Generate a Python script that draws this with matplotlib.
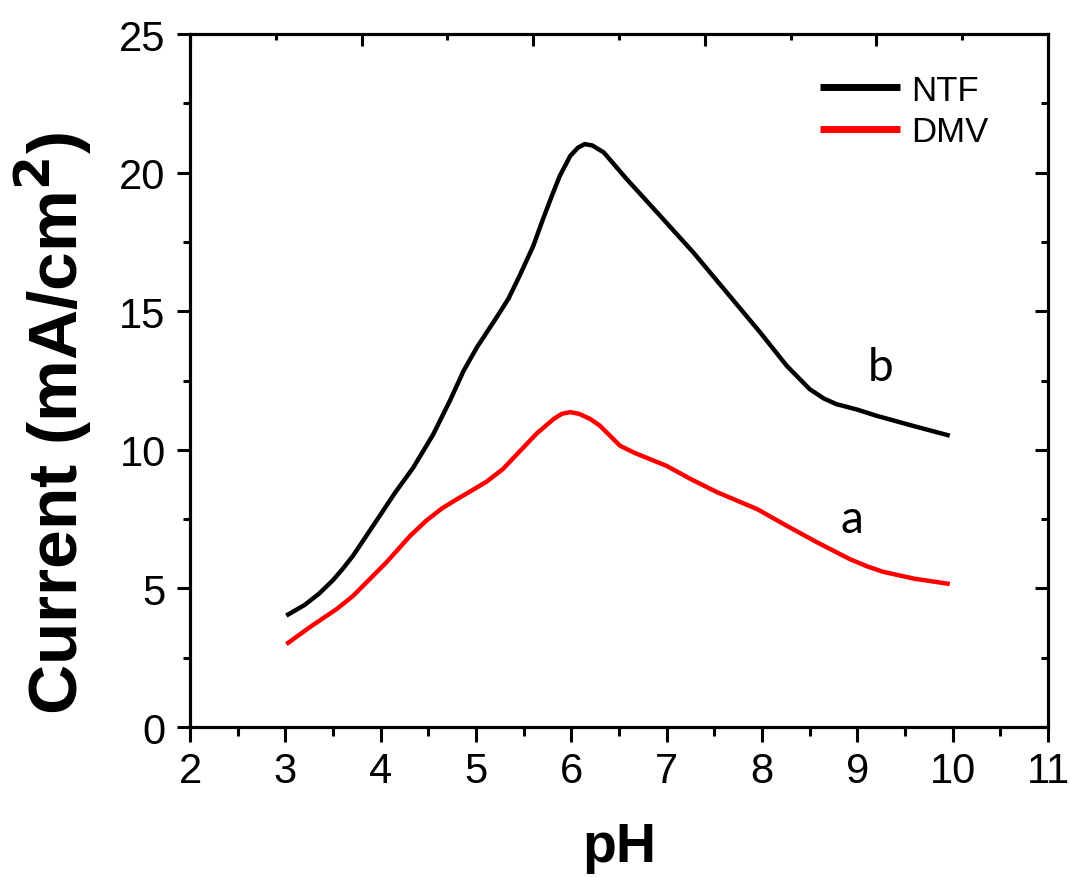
import matplotlib

matplotlib.use("Agg")
from matplotlib import pyplot as plt
from matplotlib.ticker import MultipleLocator

plt.rcParams["font.family"] = ["Liberation Sans", "DejaVu Sans"]

# NTF (curve b)
ph_ntf = [3.01, 3.2, 3.35, 3.5, 3.6, 3.71, 3.99, 4.15, 4.34, 4.55, 4.73,
          4.87, 5.01, 5.22, 5.34, 5.46, 5.6, 5.7, 5.8, 5.88, 5.99, 6.07,
          6.14, 6.22, 6.34, 6.58, 6.93, 7.28, 7.63, 7.98, 8.26, 8.5, 8.65,
          8.78, 9.0, 9.2, 9.6, 9.97]
cur_ntf = [4.02, 4.4, 4.8, 5.3, 5.7, 6.18, 7.62, 8.45, 9.35, 10.55, 11.8,
           12.85, 13.7, 14.8, 15.45, 16.3, 17.35, 18.3, 19.2, 19.89, 20.61,
           20.9, 21.03, 20.98, 20.73, 19.77, 18.45, 17.12, 15.68, 14.24,
           13.03, 12.19, 11.85, 11.65, 11.45, 11.23, 10.85, 10.51]

# DMV (curve a)
ph_dmv = [3.01, 3.26, 3.54, 3.71, 4.06, 4.31, 4.48, 4.64, 4.8, 4.94, 5.11,
          5.28, 5.46, 5.64, 5.81, 5.9, 5.99, 6.08, 6.2, 6.3, 6.51, 6.65, 7.0,
          7.25, 7.53, 7.75, 7.95, 8.26, 8.58, 8.92, 9.1, 9.27, 9.6, 9.97]
cur_dmv = [2.99, 3.61, 4.26, 4.73, 5.94, 6.9, 7.45, 7.88, 8.22, 8.5, 8.85,
           9.3, 9.95, 10.6, 11.1, 11.3, 11.36, 11.3, 11.11, 10.87, 10.15,
           9.91, 9.42, 8.95, 8.47, 8.15, 7.86, 7.26, 6.66, 6.06, 5.8, 5.6,
           5.35, 5.16]

labels = ["NTF", "DMV"]
colors = ["black", "#ff0000"]

fig = plt.figure(figsize=(10.70, 8.78), dpi=100)
ax = fig.add_axes([0.1776, 0.1708, 0.8018, 0.7893])

ax.plot(ph_ntf, cur_ntf, color=colors[0], lw=3.2, label=labels[0],
        solid_joinstyle="round", solid_capstyle="butt")
ax.plot(ph_dmv, cur_dmv, color=colors[1], lw=3.2, label=labels[1],
        solid_joinstyle="round", solid_capstyle="butt")

ax.set_xlim(2, 11)
ax.set_ylim(0, 25)
ax.xaxis.set_major_locator(MultipleLocator(1))
ax.xaxis.set_minor_locator(MultipleLocator(0.5))
ax.yaxis.set_major_locator(MultipleLocator(5))
ax.yaxis.set_minor_locator(MultipleLocator(2.5))

ax.tick_params(axis="x", which="major", direction="out", length=11, width=2.2,
               labelsize=30, pad=6)
ax.tick_params(axis="x", which="minor", direction="out", length=6.5, width=2.2)
ax.tick_params(axis="y", which="major", direction="out", length=9.5, width=2.2,
               labelsize=30, pad=8)
ax.tick_params(axis="y", which="minor", direction="out", length=5, width=2.2)

# right side ticks point inward
ax2 = ax.twinx()
ax2.set_ylim(0, 25)
ax2.yaxis.set_major_locator(MultipleLocator(5))
ax2.yaxis.set_minor_locator(MultipleLocator(2.5))
ax2.tick_params(axis="y", which="major", direction="in", length=9.5, width=2.2,
                labelright=False)
ax2.tick_params(axis="y", which="minor", direction="in", length=5, width=2.2)

# top axis has its own divisions, ticks inward
ax3 = ax.twiny()
ax3.set_xlim(0, 1)
ax3.xaxis.set_major_locator(MultipleLocator(0.2))
ax3.xaxis.set_minor_locator(MultipleLocator(0.1))
ax3.tick_params(axis="x", which="major", direction="in", length=8.5,
                width=2.2, labeltop=False)
ax3.tick_params(axis="x", which="minor", direction="in", length=4.5, width=2.2)

for a in (ax, ax2, ax3):
    for side in a.spines.values():
        side.set_linewidth(2.2)

ax.set_xlabel("pH", fontsize=40, fontweight="bold", labelpad=22)
ax.set_ylabel("Current (mA/cm$^\\mathbf{2}$)", fontsize=50, fontweight="bold")
ax.yaxis.set_label_coords(-0.112, 0.44)

ax.text(9.24, 12.99, "b", fontsize=33, family=["Lato", "DejaVu Sans"],
        ha="center", va="center")
ax.text(8.94, 7.5, "a", fontsize=33, family=["Lato", "DejaVu Sans"],
        ha="center", va="center")

leg = ax.legend(loc="upper left", bbox_to_anchor=(0.734, 0.943),
                frameon=False, fontsize=25, handlelength=2.3,
                handletextpad=0.32, labelspacing=0.25, borderpad=0,
                borderaxespad=0)
for line in leg.get_lines():
    line.set_linewidth(5)

fig.savefig("out.png", dpi=100)
